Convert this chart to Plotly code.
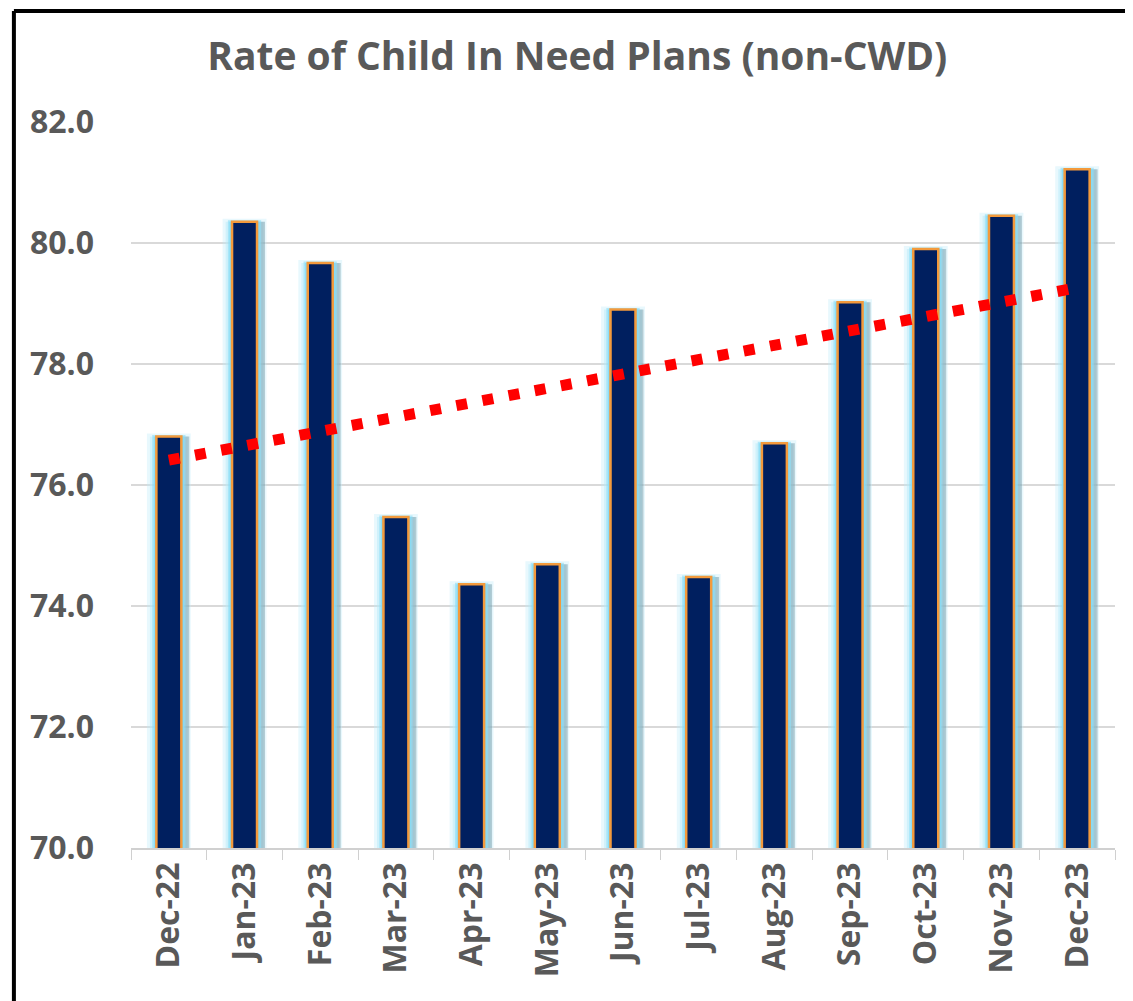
import plotly.graph_objects as go

months = ["Dec-22", "Jan-23", "Feb-23", "Mar-23", "Apr-23", "May-23", "Jun-23",
          "Jul-23", "Aug-23", "Sep-23", "Oct-23", "Nov-23", "Dec-23"]
rates = [76.8, 80.35, 79.67, 75.47, 74.36, 74.69, 78.9, 74.48, 76.69, 79.02, 79.9, 80.45, 81.22]
trend_x = ["Dec-22", "Dec-23"]
trend_y = [76.41, 79.26]
y_ticks = [70, 72, 74, 76, 78, 80, 82]

FONT = "Open Sans"
GREY = "#595959"

fig = go.Figure()
# outer glow
fig.add_trace(go.Bar(x=months, y=rates, width=0.50,
                     marker=dict(color="rgba(175,232,248,0.45)",
                                 line=dict(color="rgba(190,236,250,0.35)", width=6)),
                     hoverinfo="skip", showlegend=False))
# soft shadow on the right
fig.add_trace(go.Bar(x=months, y=rates, width=0.27, offset=0.0,
                     marker=dict(color="rgba(95,135,150,0.40)", line=dict(width=0)),
                     hoverinfo="skip", showlegend=False))
# inner glow
fig.add_trace(go.Bar(x=months, y=rates, width=0.40,
                     marker=dict(color="rgba(120,215,245,0.80)",
                                 line=dict(color="rgba(140,222,247,0.6)", width=3)),
                     hoverinfo="skip", showlegend=False))
# main bars
fig.add_trace(go.Bar(x=months, y=rates, width=0.33,
                     marker=dict(color="#001F5F", line=dict(color="#F39A3C", width=2.5)),
                     showlegend=False))
# trendline
fig.add_trace(go.Scatter(x=trend_x, y=trend_y, mode="lines",
                         line=dict(color="#FF0000", width=11, dash="11px,15.6px"),
                         showlegend=False))

fig.update_layout(
    barmode="overlay",
    width=1125, height=993,
    margin=dict(l=123, r=18, t=114, b=153),
    paper_bgcolor="white", plot_bgcolor="white",
    title=dict(text="<b>Rate of Child In Need Plans (non-CWD)</b>",
               x=0.506, xanchor="center", y=0.951, yanchor="middle",
               font=dict(family=FONT, size=39, color=GREY)),
    xaxis=dict(type="category", tickangle=-90, tickson="boundaries", ticks="outside",
               ticklen=10, tickcolor="#d0d0d0", showline=True, linecolor="#d0d0d0",
               linewidth=1.5, showgrid=False,
               tickfont=dict(family=FONT, size=32, color=GREY)),
    yaxis=dict(range=[70, 82], tickvals=y_ticks,
               ticktext=[f"<b>{v:.1f}</b>" for v in y_ticks],
               showgrid=True, gridcolor="#d9d9d9", gridwidth=1.5, zeroline=False,
               ticks="", ticklabelstandoff=36,
               tickfont=dict(family=FONT, size=32, color=GREY)),
    shapes=[
        dict(type="line", xref="paper", yref="paper", x0=-0.119, x1=-0.119, y0=1.153, y1=-0.3,
             line=dict(color="black", width=4)),
        dict(type="line", xref="paper", yref="paper", x0=-0.119, x1=1.1, y0=1.153, y1=1.153,
             line=dict(color="black", width=4)),
    ],
)
fig.update_xaxes(ticktext=[f"<b>{m}</b>" for m in months], tickvals=months)

fig.write_html("out.html")
